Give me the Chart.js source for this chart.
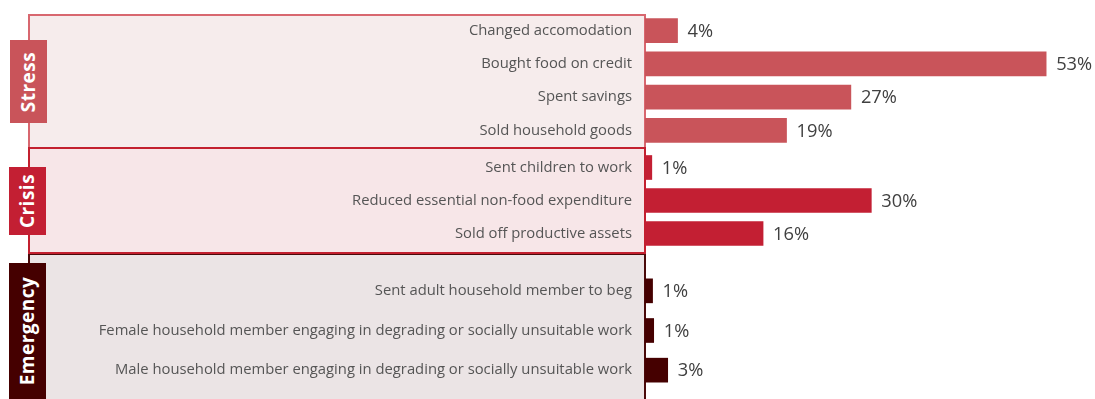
<!DOCTYPE html>
<html>
<head>
<meta charset="utf-8">
<script src="https://cdn.jsdelivr.net/npm/chart.js@4/dist/chart.umd.min.js"></script>
<style>
  html, body { margin: 0; padding: 0; background: #ffffff; }
  body { width: 1095px; height: 399px; position: relative; overflow: hidden; font-family: "Open Sans", sans-serif; }
  .box { position: absolute; box-sizing: border-box; }
  .tag { position: absolute; display: flex; align-items: center; justify-content: center; }
  .tag span { transform: rotate(-90deg); white-space: nowrap; color: #ffffff; font-weight: 700; font-size: 19px; letter-spacing: 0.5px; }
  .wrap { position: absolute; left: 0; width: 1095px; }
</style>
</head>
<body>
<!-- group boxes -->
<div class="box" style="left:28px; top:14px; width:618px; height:135px; background:#f6ecec; border:2px solid #d8676f;"></div>
<div class="box" style="left:28px; top:253px; width:618px; height:160px; background:#ebe4e5; border:2px solid #4a0a0a;"></div>
<div class="box" style="left:28px; top:147px; width:618px; height:107px; background:#f7e6e8; border:2px solid #c3202f;"></div>
<div class="tag" style="left:10px; top:40px; width:37px; height:83px; background:#c9545a;"><span>Stress</span></div>
<div class="tag" style="left:9px; top:167px; width:37px; height:68px; background:#c31f33;"><span>Crisis</span></div>
<div class="tag" style="left:9px; top:263px; width:37px; height:136px; background:#450000;"><span>Emergency</span></div>

<div class="wrap" style="top:14px; height:133px;"><canvas id="c1"></canvas></div>
<div class="wrap" style="top:151px; height:99px;"><canvas id="c2"></canvas></div>
<div class="wrap" style="top:271px; height:119px;"><canvas id="c3"></canvas></div>

<script>
// ---- data ----
const stressLabels = ["Changed accomodation", "Bought food on credit", "Spent savings", "Sold household goods"];
const stressValues = [4.3, 53, 27.2, 18.7];
const stressText = ["4%", "53%", "27%", "19%"];

const crisisLabels = ["Sent children to work", "Reduced essential non-food expenditure", "Sold off productive assets"];
const crisisValues = [0.9, 29.9, 15.6];
const crisisText = ["1%", "30%", "16%"];

const emergencyLabels = ["Sent adult household member to beg", "Female household member engaging in degrading or socially unsuitable work", "Male household member engaging in degrading or socially unsuitable work"];
const emergencyValues = [1.0, 1.15, 3.0];
const emergencyText = ["1%", "1%", "3%"];

const valueLabelPlugin = {
  id: 'valueLabels',
  afterDatasetsDraw(chart, args, opts) {
    const ctx = chart.ctx;
    const meta = chart.getDatasetMeta(0);
    ctx.save();
    ctx.font = '18.3px "Open Sans"';
    ctx.fillStyle = '#404040';
    ctx.textAlign = 'left';
    ctx.textBaseline = 'middle';
    meta.data.forEach((bar, i) => {
      ctx.fillText(opts.texts[i], bar.x + 10, bar.y + 1);
    });
    ctx.restore();
  }
};

function makeChart(id, labels, values, texts, color) {
  return new Chart(document.getElementById(id), {
    type: 'bar',
    data: {
      labels: labels,
      datasets: [{ data: values, backgroundColor: color, borderWidth: 0, barThickness: 24 }]
    },
    options: {
      indexAxis: 'y',
      responsive: true,
      maintainAspectRatio: false,
      animation: false,
      layout: { padding: { left: 0, right: 11, top: 0, bottom: 0 } },
      plugins: { legend: { display: false }, tooltip: { enabled: false }, valueLabels: { texts: texts } },
      scales: {
        x: { display: false, min: 0, max: 58 },
        y: {
          grid: { display: false, drawTicks: false },
          border: { display: false },
          ticks: { color: '#555555', font: { family: 'Open Sans', size: 14.8 }, padding: 13 },
          afterFit(scale) { scale.width = 645; scale.paddingTop = 0; scale.paddingBottom = 0; }
        }
      }
    },
    plugins: [valueLabelPlugin]
  });
}

makeChart('c1', stressLabels, stressValues, stressText, '#c9545a');
makeChart('c2', crisisLabels, crisisValues, crisisText, '#c31f33');
makeChart('c3', emergencyLabels, emergencyValues, emergencyText, '#450000');
</script>
</body>
</html>
